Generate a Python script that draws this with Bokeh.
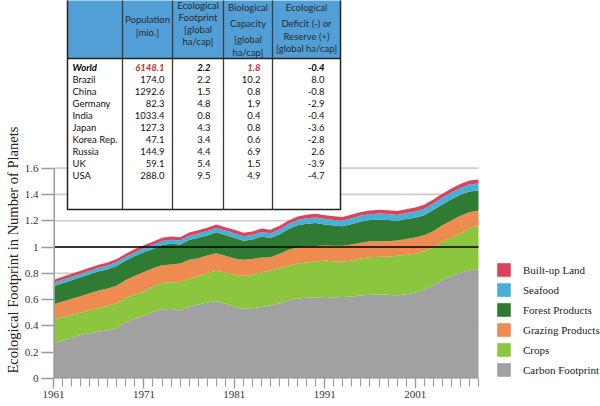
from bokeh.plotting import figure
from bokeh.models import Range1d, FixedTicker, Legend, LegendItem, Title, ColumnDataSource
from bokeh.embed import file_html
from bokeh.resources import INLINE
from bokeh.core.properties import value

# ---------------- data ----------------
years = list(range(1961, 2009))
carbon = [0.268, 0.289, 0.309, 0.330, 0.345, 0.357, 0.365, 0.383, 0.429, 0.454,
          0.479, 0.505, 0.525, 0.530, 0.517, 0.548, 0.563, 0.578, 0.588, 0.568,
          0.543, 0.530, 0.535, 0.543, 0.555, 0.571, 0.593, 0.609, 0.614, 0.614,
          0.619, 0.616, 0.619, 0.624, 0.631, 0.636, 0.639, 0.636, 0.631, 0.641,
          0.654, 0.674, 0.710, 0.750, 0.778, 0.804, 0.824, 0.834]
crops = [0.181, 0.177, 0.175, 0.172, 0.175, 0.180, 0.188, 0.190, 0.185, 0.185,
         0.185, 0.195, 0.203, 0.200, 0.216, 0.212, 0.217, 0.223, 0.232, 0.238,
         0.247, 0.249, 0.254, 0.265, 0.266, 0.268, 0.266, 0.266, 0.268, 0.276,
         0.278, 0.276, 0.268, 0.273, 0.282, 0.287, 0.286, 0.289, 0.302, 0.299,
         0.294, 0.294, 0.289, 0.290, 0.292, 0.301, 0.319, 0.330]
grazing = [0.114, 0.120, 0.122, 0.124, 0.129, 0.132, 0.131, 0.134, 0.136, 0.142,
           0.145, 0.139, 0.134, 0.137, 0.142, 0.143, 0.135, 0.135, 0.133, 0.127,
           0.123, 0.124, 0.119, 0.112, 0.102, 0.109, 0.120, 0.124, 0.122, 0.117,
           0.115, 0.117, 0.122, 0.122, 0.119, 0.121, 0.119, 0.119, 0.116, 0.120,
           0.124, 0.122, 0.121, 0.126, 0.132, 0.132, 0.122, 0.114]
forest = [0.139, 0.139, 0.142, 0.144, 0.144, 0.146, 0.147, 0.150, 0.147, 0.150,
          0.152, 0.146, 0.154, 0.157, 0.144, 0.150, 0.156, 0.152, 0.159, 0.158,
          0.158, 0.144, 0.149, 0.159, 0.145, 0.148, 0.157, 0.166, 0.173, 0.176,
          0.160, 0.154, 0.149, 0.156, 0.162, 0.161, 0.164, 0.161, 0.148, 0.152,
          0.150, 0.152, 0.161, 0.157, 0.162, 0.160, 0.157, 0.151]
seafood = [0.026, 0.026, 0.026, 0.027, 0.027, 0.027, 0.028, 0.028, 0.028, 0.029,
           0.029, 0.030, 0.030, 0.031, 0.031, 0.032, 0.032, 0.033, 0.033, 0.034,
           0.034, 0.035, 0.035, 0.036, 0.037, 0.038, 0.039, 0.040, 0.041, 0.042,
           0.042, 0.043, 0.043, 0.044, 0.045, 0.045, 0.046, 0.046, 0.047, 0.047,
           0.048, 0.049, 0.050, 0.051, 0.051, 0.052, 0.053, 0.053]
built_up = [0.022, 0.022, 0.022, 0.022, 0.022, 0.023, 0.023, 0.023, 0.023, 0.024,
            0.024, 0.024, 0.024, 0.025, 0.025, 0.025, 0.025, 0.025, 0.026, 0.026,
            0.026, 0.026, 0.026, 0.026, 0.026, 0.027, 0.027, 0.027, 0.027, 0.027,
            0.028, 0.028, 0.028, 0.028, 0.028, 0.028, 0.029, 0.029, 0.029, 0.029,
            0.030, 0.030, 0.030, 0.030, 0.030, 0.031, 0.031, 0.031]

series_keys = ["carbon", "crops", "grazing", "forest", "seafood", "built_up"]
series_labels = ["Carbon Footprint", "Crops", "Grazing Products", "Forest Products",
                 "Seafood", "Built-up Land"]
series_colors = ["#a1a1a1", "#8cc63f", "#ee8b51", "#2f7b34", "#46b0d8", "#dc425c"]

y_ticks = [0, 0.2, 0.4, 0.6, 0.8, 1, 1.2, 1.4, 1.6]
y_tick_labels = ["0", "0.2", "0.4", "0.6", "0.8", "1", "1.2", "1.4", "1.6"]
x_label_years = [1961, 1971, 1981, 1991, 2001]
one_planet = 1
y_axis_title = "Ecological Footprint in Number of Planets"

countries = ["World", "Brazil", "China", "Germany", "India", "Japan", "Korea Rep.",
             "Russia", "UK", "USA"]
population = [6148.1, 174.0, 1292.6, 82.3, 1033.4, 127.3, 47.1, 144.9, 59.1, 288.0]
footprint = [2.2, 2.2, 1.5, 4.8, 0.8, 4.3, 3.4, 4.4, 5.4, 9.5]
biocapacity = [1.8, 10.2, 0.8, 1.9, 0.4, 0.8, 0.6, 6.9, 1.5, 4.9]
deficit = [-0.4, 8.0, -0.8, -2.9, -0.4, -3.6, -2.8, 2.6, -3.9, -4.7]
header_lines = [["Population", "[mio.]"],
                ["Ecological", "Footprint", "[global", "ha/cap]"],
                ["Biological", "Capacity", "[global", "ha/cap]"],
                ["Ecological", "Deficit (-) or", "Reserve (+)", "[global ha/cap]"]]

# ---------------- layout ----------------
W, H = 600, 406
BORDER_L, BORDER_B = 53, 28
DATA_W = 425           # pixel width of the year axis (1961..2008)
PX_PER_UNIT = 131.5    # pixels per planet
frame_w = W - BORDER_L
frame_h = H - BORDER_B
px_per_year = DATA_W / (years[-1] - years[0])

p = figure(width=W, height=H, output_backend="svg", toolbar_location=None,
           x_range=Range1d(years[0], years[0] + frame_w / px_per_year),
           y_range=Range1d(0, frame_h / PX_PER_UNIT),
           min_border_left=BORDER_L, min_border_right=0,
           min_border_top=0, min_border_bottom=BORDER_B)
p.outline_line_color = None
p.background_fill_color = "white"
p.border_fill_color = "white"
# pixel-coordinate ranges for the overlaid table
p.extra_x_ranges = {"px": Range1d(BORDER_L, W)}
p.extra_y_ranges = {"px": Range1d(frame_h, 0)}

# horizontal grid lines over the data span only
p.xgrid.visible = False
p.ygrid.visible = False
grid_y = y_ticks[1:]
p.segment(x0=[years[0]] * len(grid_y), y0=grid_y, x1=[years[-1]] * len(grid_y), y1=grid_y,
          line_color="#cccccc", line_width=1.6)

# stacked areas
src = ColumnDataSource(dict(year=years, carbon=carbon, crops=crops, grazing=grazing,
                            forest=forest, seafood=seafood, built_up=built_up))
areas = p.varea_stack(stackers=series_keys, x="year", color=series_colors, source=src)

# one-planet line
p.segment(x0=[years[0]], y0=[one_planet], x1=[years[-1]], y1=[one_planet],
          line_color="black", line_width=1.6)

# axis lines limited to the data span
p.segment(x0=[years[0]], y0=[y_ticks[0]], x1=[years[0]], y1=[y_ticks[-1]],
          line_color="#9a9a9a", line_width=3)
p.segment(x0=[years[0]], y0=[y_ticks[0]], x1=[years[-1]], y1=[y_ticks[0]],
          line_color="#9a9a9a", line_width=3)

# axes
ax = p.xaxis[0]
ax.ticker = FixedTicker(ticks=x_label_years, minor_ticks=years)
ax.axis_line_color = None
ax.major_tick_line_color = "#9a9a9a"
ax.minor_tick_line_color = "#9a9a9a"
ax.major_tick_line_width = 1.3
ax.minor_tick_line_width = 1.1
ax.major_tick_in = 0
ax.major_tick_out = 10
ax.minor_tick_in = 0
ax.minor_tick_out = 8
ax.major_label_standoff = 2
ax.major_label_text_font = "Liberation Serif"
ax.major_label_text_font_size = "11px"
ax.major_label_text_color = "#333333"

ay = p.yaxis[0]
ay.ticker = FixedTicker(ticks=y_ticks)
ay.major_label_overrides = {t: l for t, l in zip(y_ticks, y_tick_labels)}
ay.axis_line_color = None
ay.major_tick_line_color = "#9a9a9a"
ay.major_tick_line_width = 1.3
ay.minor_tick_line_color = None
ay.major_tick_in = 0
ay.major_tick_out = 12
ay.major_label_standoff = 3
ay.major_label_text_font = "Liberation Serif"
ay.major_label_text_font_size = "11px"
ay.major_label_text_color = "#333333"

p.add_layout(Title(text=y_axis_title, align="left", offset=5, standoff=2,
                   text_font="Liberation Serif", text_font_size="14.5px",
                   text_font_style="normal", text_color="#222222"), "left")

# ---------------- table (pixel coordinates) ----------------
TL, TR, TB, TH = 67, 340, 209, 58
col_edges = [122, 172, 223, 272]
col_centers = [147, 197.5, 247.5, 306]
header_y = [[19, 32], [5, 17, 29, 41], [7, 23, 39, 52], [7, 23, 36, 48]]
row_y0, row_dy = 67, 12
name_x = 72
value_right = [164, 210, 260, 324]
kw = dict(x_range_name="px", y_range_name="px")
FONT = value("Lato")
FS = value("9.5px")

p.quad(left=[TL], right=[TR], top=[-10], bottom=[TB], fill_color="white", line_color=None, **kw)
p.quad(left=[TL], right=[TR], top=[-10], bottom=[TH], fill_color="#529fd8", line_color=None, **kw)
p.segment(x0=col_edges, y0=[-10] * 4, x1=col_edges, y1=[TB] * 4, line_color="#3a3a3a",
          line_width=1.3, **kw)
p.segment(x0=[TL], y0=[TH], x1=[TR], y1=[TH], line_color="#222222", line_width=1.3, **kw)
p.quad(left=[TL], right=[TR], top=[-10], bottom=[TB], fill_color=None, line_color="#222222",
       line_width=1.5, **kw)

hx, hy, ht = [], [], []
for c, lines, ys in zip(col_centers, header_lines, header_y):
    for t, y in zip(lines, ys):
        hx.append(c); hy.append(y); ht.append(t)
p.text(x=hx, y=hy, text=ht, text_align="center", text_baseline="middle", text_font=FONT,
       text_font_size=FS, text_color="#2b2b2b", **kw)

rows_y = [row_y0 + i * row_dy for i in range(len(countries))]
cols = [population, footprint, biocapacity, deficit]
# world row
p.text(x=[name_x], y=[rows_y[0]], text=[countries[0]], text_align="left", text_baseline="middle",
       text_font=FONT, text_font_size=FS, text_font_style="bold italic", text_color="black", **kw)
world_colors = ["#b8312f", "black", "#b8312f", "black"]
p.text(x=value_right, y=[rows_y[0]] * 4, text=[f"{c[0]:.1f}" for c in cols], text_align="right",
       text_baseline="middle", text_font=FONT, text_font_size=FS, text_font_style="bold italic",
       text_color=world_colors, **kw)
# country rows
p.text(x=[name_x] * (len(countries) - 1), y=rows_y[1:], text=countries[1:], text_align="left",
       text_baseline="middle", text_font=FONT, text_font_size=FS, text_color="#111111", **kw)
vx, vy, vt = [], [], []
for xr, c in zip(value_right, cols):
    for y, v in zip(rows_y[1:], c[1:]):
        vx.append(xr); vy.append(y); vt.append(f"{v:.1f}")
p.text(x=vx, y=vy, text=vt, text_align="right", text_baseline="middle", text_font=FONT,
       text_font_size=FS, text_color="#111111", **kw)

# ---------------- legend (inside the wide frame, right of the data) ----------------
items = [LegendItem(label=lab, renderers=[r]) for lab, r in zip(series_labels, areas)][::-1]
legend = Legend(items=items, location=(DATA_W + 17, 0), orientation="vertical", glyph_width=17,
                glyph_height=17, spacing=3, label_standoff=11, padding=0, margin=0,
                border_line_color=None, background_fill_alpha=0,
                label_text_font="Liberation Serif", label_text_font_size="11px",
                label_text_color="#222222")
p.add_layout(legend, "center")

open("out.html", "w").write(file_html(p, INLINE))
